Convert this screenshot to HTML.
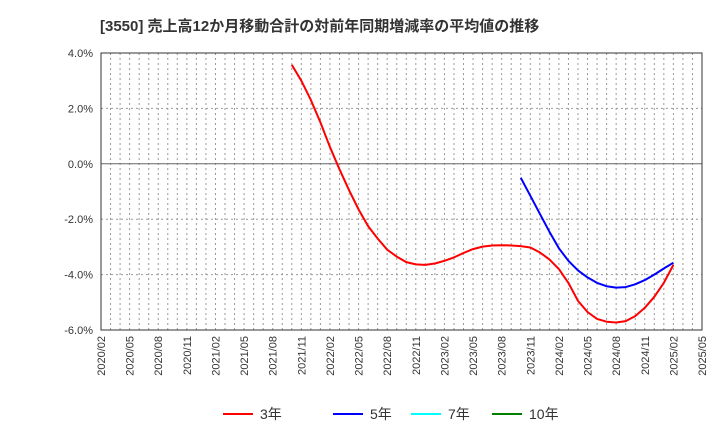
<!DOCTYPE html>
<html><head><meta charset="utf-8"><style>
body{margin:0;background:#fff;font-family:"Liberation Sans","Noto Sans CJK JP",sans-serif;}
</style></head><body>
<svg id="c" width="720" height="440" xmlns="http://www.w3.org/2000/svg"></svg>
<script>
const startLabel=[2020,2];
const tickYears=[-6,-4,-2,0,2,4];
const red3Start=[2021,10];
const red3=[3.57,3.0,2.3,1.5,0.6,-0.2,-0.95,-1.65,-2.25,-2.7,-3.1,-3.35,-3.55,-3.63,-3.65,-3.6,-3.5,-3.38,-3.22,-3.08,-2.99,-2.95,-2.94,-2.95,-2.97,-3.02,-3.2,-3.45,-3.8,-4.3,-4.95,-5.35,-5.6,-5.7,-5.73,-5.68,-5.5,-5.2,-4.8,-4.3,-3.65];
const blue5Start=[2023,10];
const blue5=[-0.5,-1.15,-1.8,-2.45,-3.05,-3.5,-3.85,-4.1,-4.3,-4.42,-4.47,-4.45,-4.35,-4.2,-4.0,-3.78,-3.57];
const legendLabels=["3年","5年","7年","10年"];
const legendColors=["#ff0000","#0000ff","#00ffff","#008000"];
const L=101,R=702,T=53,B=330,months=63;
const svg=document.getElementById('c');const NS="http://www.w3.org/2000/svg";
function x(m){return L+(R-L)*m/months;}
function y(v){return T+(4-v)/10*(B-T);}
function mi(yr,mo){return (yr-startLabel[0])*12+(mo-startLabel[1]);}
function add(tag,attrs,text){const e=document.createElementNS(NS,tag);for(const k in attrs)e.setAttribute(k,attrs[k]);if(text!==undefined)e.textContent=text;svg.appendChild(e);return e;}
let t=add('text',{x:100,y:31,'font-size':15,'font-weight':'bold',fill:'#333'},'[3550]  売上高12か月移動合計の対前年同期増減率の平均値の推移');

for(let m=1;m<months;m++){let g=add('line',{x1:x(m),x2:x(m),y1:T,y2:B,stroke:'#999','stroke-dasharray':'2,3','stroke-width':1});}
tickYears.forEach(v=>{let g=add('line',{x1:L,x2:R,y1:y(v),y2:y(v),stroke:v===0?'#666':'#999','stroke-dasharray':(v===0||v===4)?'':'2,3'});
let tl=add('text',{x:L-8,y:y(v)+4,'font-size':11,'text-anchor':'end',fill:'#333'},v.toFixed(1)+'%');});
let fr=add('rect',{x:L,y:T,width:R-L,height:B-T,fill:'none',stroke:'#333'});
for(let m=0;m<=months;m+=3){let yr=startLabel[0]+Math.floor((startLabel[1]-1+m)/12),mo=(startLabel[1]-1+m)%12+1;
let s=yr+'/'+String(mo).padStart(2,'0');let tx=add('text',{x:0,y:0,'font-size':11,fill:'#333','text-anchor':'end',transform:`translate(${x(m)+4},${B+6}) rotate(-90)`},s);}
function series(vals,st,col,name){const m0=mi(st[0],st[1]);const p=vals.map((v,i)=>x(m0+i).toFixed(1)+','+y(v).toFixed(1)).join(' ');
let pl=add('polyline',{points:p,fill:'none',stroke:col,'stroke-width':2,'stroke-linejoin':'round'});}
series(red3,red3Start,'#ff0000','line-3yr');series(blue5,blue5Start,'#0000ff','line-5yr');
const lx=[223,333,411,492];
legendLabels.forEach((lab,i)=>{let g=add('line',{x1:lx[i],x2:lx[i]+30,y1:414,y2:414,stroke:legendColors[i],'stroke-width':2});
let tt=add('text',{x:lx[i]+37,y:419,'font-size':14,fill:'#333'},lab);});
</script></body></html>
